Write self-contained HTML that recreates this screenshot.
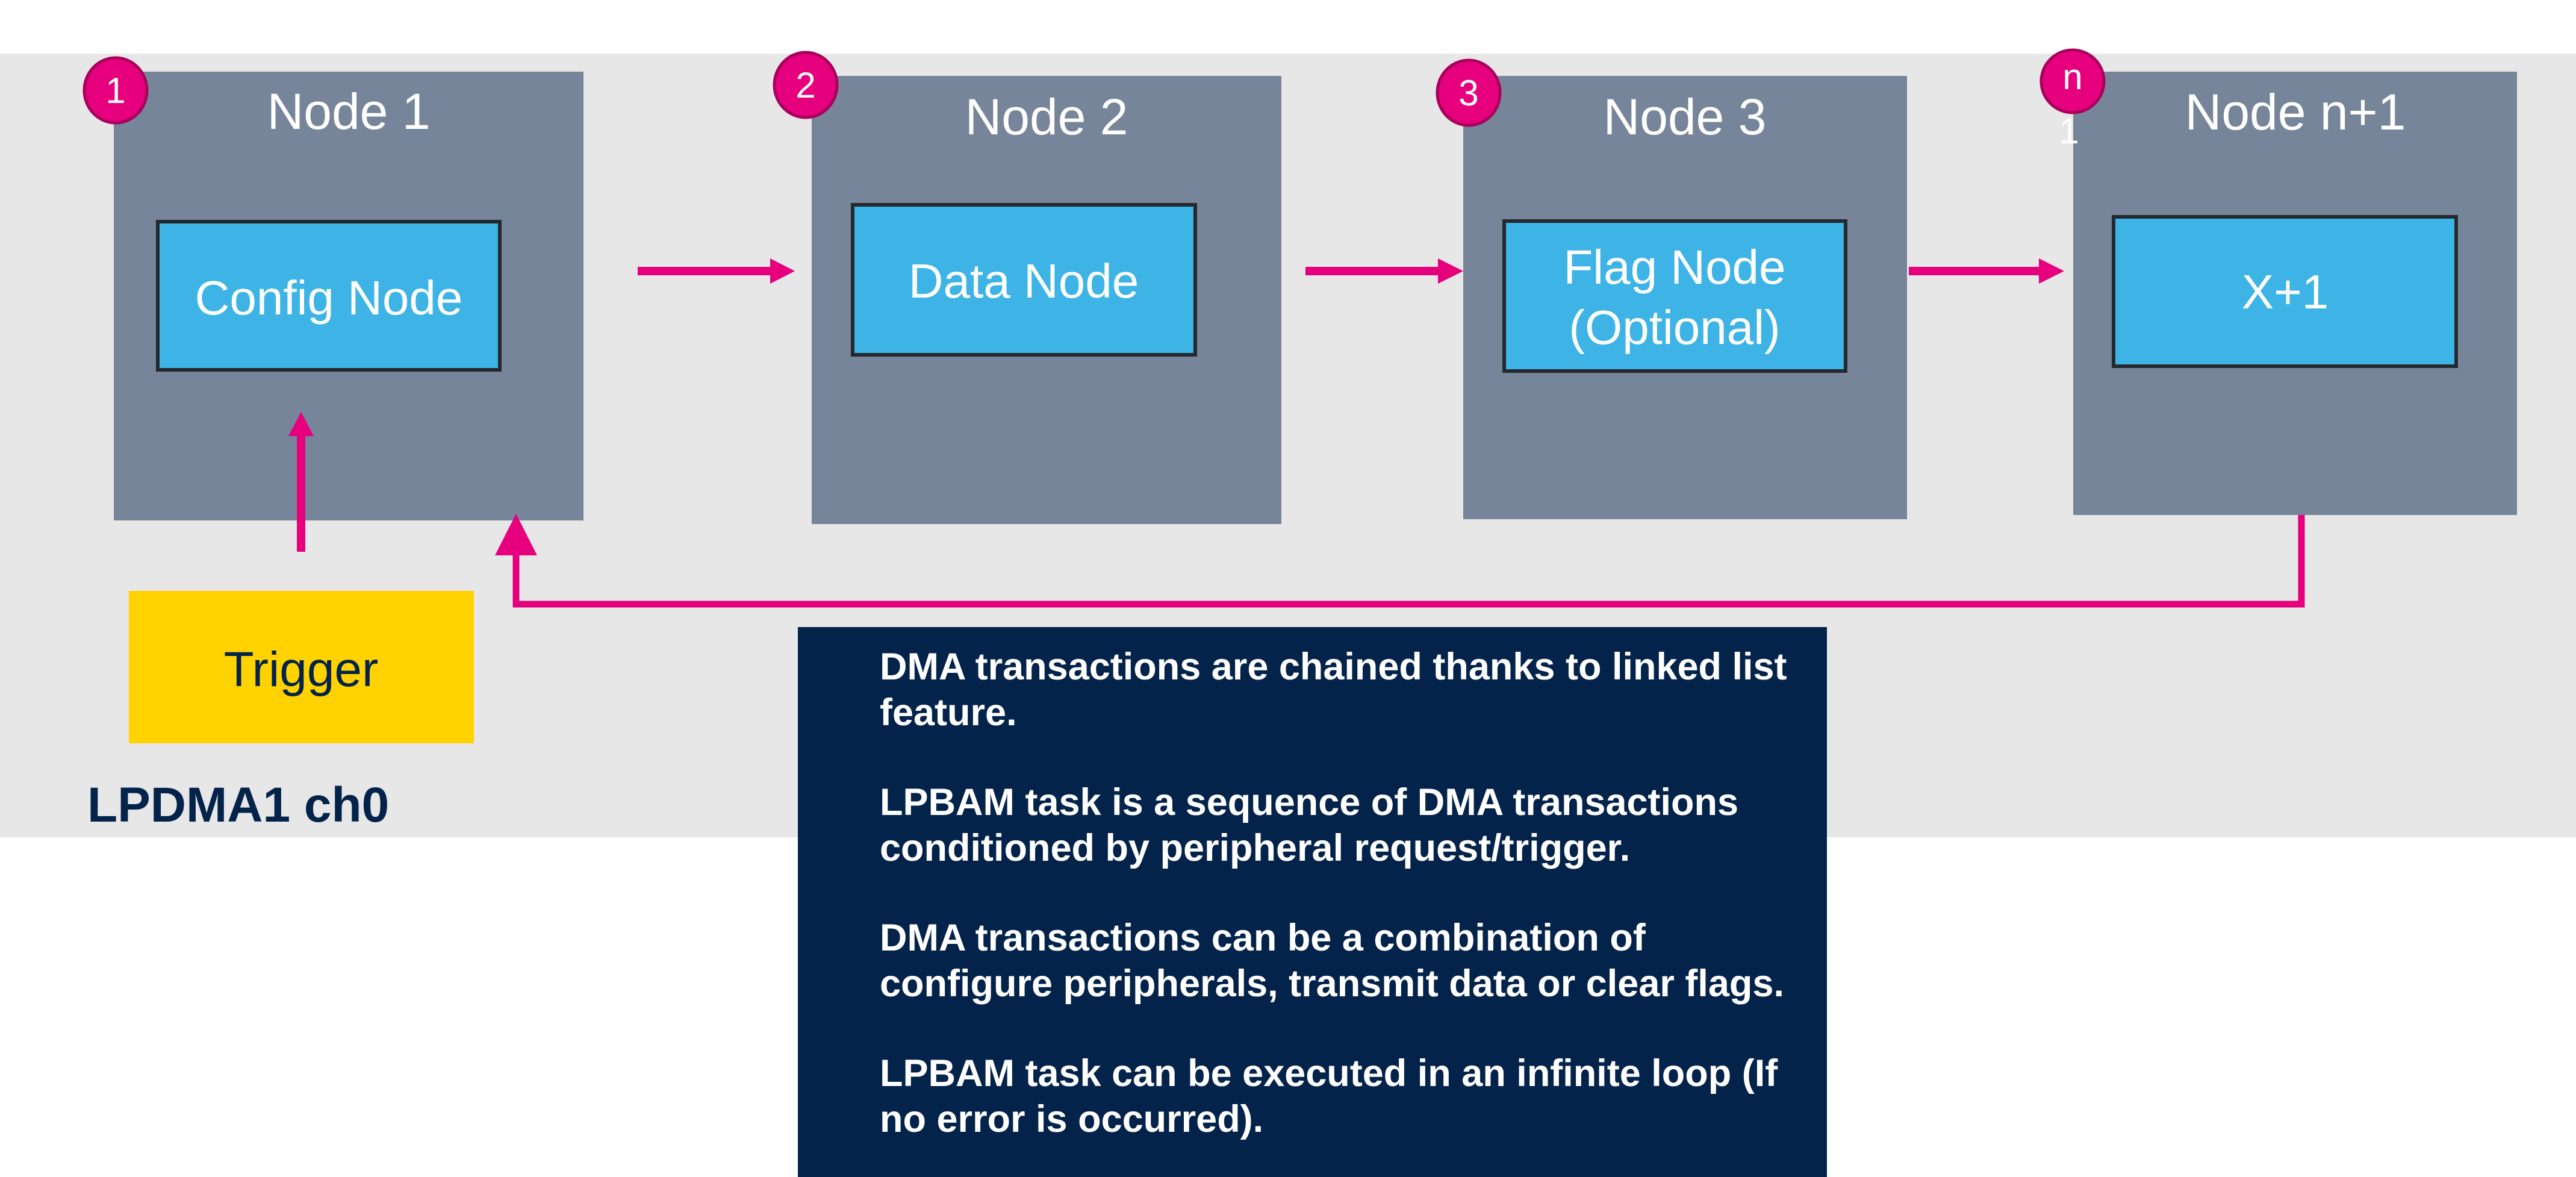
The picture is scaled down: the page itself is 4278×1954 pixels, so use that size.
<!DOCTYPE html>
<html><head><meta charset="utf-8"><style>html,body{margin:0;padding:0;background:#fff}svg{display:block}</style></head>
<body>
<svg width="4278" height="1954" viewBox="0 0 4278 1954" xmlns="http://www.w3.org/2000/svg" font-family="Liberation Sans, Arial, sans-serif">
<rect x="0" y="0" width="4278" height="1954" fill="#fff"/>
<rect x="0" y="89" width="4278" height="1301" fill="#e7e7e7"/>
<rect x="189" y="119" width="780" height="745" fill="#768599"/>
<rect x="1348" y="126" width="780" height="744" fill="#768599"/>
<rect x="2430" y="126" width="737" height="736" fill="#768599"/>
<rect x="3443" y="119" width="737" height="736" fill="#768599"/>
<g fill="#fff" font-size="84" text-anchor="middle">
<text x="579" y="214">Node 1</text>
<text x="1738" y="223">Node 2</text>
<text x="2798" y="223">Node 3</text>
<text x="3812" y="215">Node n+1</text>
</g>
<g fill="#3db4e5" stroke="#25282d" stroke-width="6">
<rect x="262" y="368" width="568" height="246"/>
<rect x="1416" y="340" width="569" height="249"/>
<rect x="2498" y="367" width="567" height="249"/>
<rect x="3510" y="360" width="569" height="248"/>
</g>
<g fill="#fff" font-size="80" text-anchor="middle">
<text x="546" y="522">Config Node</text>
<text x="1700" y="494">Data Node</text>
<text x="2781" y="471">Flag Node</text>
<text x="2781" y="571">(Optional)</text>
<text x="3795" y="512">X+1</text>
</g>
<text x="3436" y="238" fill="#fff" font-size="60" text-anchor="middle">1</text>
<g fill="#e6007e" stroke="#a8005c" stroke-width="5">
<ellipse cx="192" cy="150" rx="52" ry="54"/>
<ellipse cx="1338" cy="141" rx="52" ry="54"/>
<ellipse cx="2439" cy="154" rx="52" ry="54"/>
<circle cx="3442" cy="135" r="52"/>
</g>
<g fill="#fff" font-size="60" text-anchor="middle">
<text x="192" y="171">1</text>
<text x="1338" y="162">2</text>
<text x="2439" y="175">3</text>
<text x="3442" y="148">n</text>
</g>
<g fill="#e6007e">
<rect x="1059" y="443" width="222" height="14"/><polygon points="1279,429 1320,450 1279,471"/>
<rect x="2168" y="443" width="222" height="14"/><polygon points="2388,429 2430,450 2388,471"/>
<rect x="3170" y="443" width="218" height="14"/><polygon points="3386,429 3428,450 3386,471"/>
<rect x="493" y="722" width="14" height="194"/><polygon points="479,724 500,684 521,724"/>
<polygon points="822,922 857,853 892,922"/>
</g>
<polyline points="3822,855 3822,1003 857,1003 857,920" fill="none" stroke="#e6007e" stroke-width="11"/>
<rect x="214" y="981" width="573" height="253" fill="#ffd200"/>
<text x="500" y="1139" fill="#03234b" font-size="82" text-anchor="middle">Trigger</text>
<text x="145" y="1364" fill="#03234b" font-size="82" font-weight="bold">LPDMA1 ch0</text>
<rect x="1325" y="1041" width="1709" height="913" fill="#03234b"/>
<g fill="#fff" font-size="63" font-weight="bold">
<text x="1461" y="1128">DMA transactions are chained thanks to linked list</text>
<text x="1461" y="1204">feature.</text>
<text x="1461" y="1353">LPBAM task is a sequence of DMA transactions</text>
<text x="1461" y="1429">conditioned by peripheral request/trigger.</text>
<text x="1461" y="1578">DMA transactions can be a combination of</text>
<text x="1461" y="1654">configure peripherals, transmit data or clear flags.</text>
<text x="1461" y="1803">LPBAM task can be executed in an infinite loop (If</text>
<text x="1461" y="1879">no error is occurred).</text>
</g>
</svg>
</body></html>
